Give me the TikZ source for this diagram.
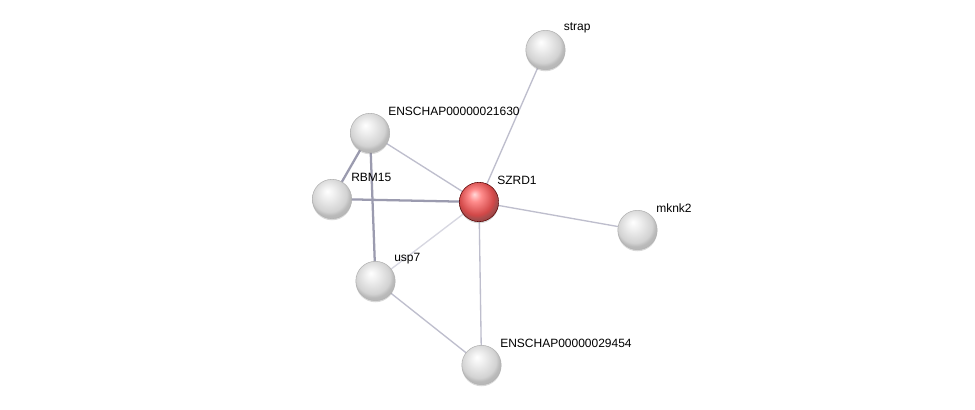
\documentclass[tikz,border=0pt]{standalone}
\usepackage{fontspec}
\setmainfont{Liberation Sans}
\usetikzlibrary{shadows}
\pgfdeclareradialshading{greyball}{\pgfpoint{-6bp}{10bp}}{color(0bp)=(white); color(8bp)=(gray!12); color(22bp)=(gray!35); color(26bp)=(gray!55); color(50bp)=(gray!60)}
\pgfdeclareradialshading{redball}{\pgfpoint{-6bp}{10bp}}{color(0bp)=(red!15); color(8bp)=(red!45); color(22bp)=(red!60!gray!90); color(26bp)=(red!50!black!70); color(50bp)=(red!40!black)}
\begin{document}
\begin{tikzpicture}[x=0.75pt,y=-0.75pt,
  prot/.style={circle,minimum size=29.5pt,inner sep=0pt,shading=greyball,draw=gray!60,line width=0.4pt,drop shadow={shadow xshift=0pt,shadow yshift=-1.2pt,opacity=0.3}},
  hub/.style={prot,shading=redball,draw=red!35!black},
  lbl/.style={font=\fontsize{9}{10}\selectfont,anchor=west,inner sep=0pt},
  thin/.style={line width=1pt,color={rgb,255:red,190;green,190;blue,205}},
  thick/.style={line width=1.7pt,color={rgb,255:red,155;green,155;blue,175}},
  faint/.style={line width=1pt,color={rgb,255:red,215;green,215;blue,225}}]
\useasboundingbox (0,0) rectangle (975,410);
\fill[white] (0,0) rectangle (975,410);
\coordinate (pstrap) at (545.5,50);
\coordinate (pe1) at (370,133);
\coordinate (prbm) at (332,199);
\coordinate (pszrd) at (479,202);
\coordinate (pmk) at (637.5,230);
\coordinate (pusp) at (375.5,281);
\coordinate (pe2) at (481.5,365);
% edges
\draw[thin] (pstrap) -- (pszrd);
\draw[thin] (pe1) -- (pszrd);
\draw[thin] (pszrd) -- (pmk);
\draw[faint] (pszrd) -- (pusp);
\draw[thin] (pszrd) -- (pe2);
\draw[thin] (pusp) -- (pe2);
\draw[thick] (pe1) -- (prbm);
\draw[thick] (pe1) -- (pusp);
\draw[thick] (prbm) -- (pszrd);
% nodes
\node[prot] (strap) at (pstrap) {};
\node[prot] (e1) at (pe1) {};
\node[prot] (rbm) at (prbm) {};
\node[hub] (szrd) at (pszrd) {};
\node[prot] (mk) at (pmk) {};
\node[prot] (usp) at (pusp) {};
\node[prot] (e2) at (pe2) {};
% labels
\node[lbl] (lstrap) at (563.5,28) {strap};
\node[lbl] (le1) at (388,111) {ENSCHAP00000021630};
\node[lbl] (lrbm) at (351,177.5) {RBM15};
\node[lbl] (lszrd) at (497,180.5) {SZRD1};
\node[lbl] (lmk) at (656,208) {mknk2};
\node[lbl] (lusp) at (394,259) {usp7};
\node[lbl] (le2) at (500,343) {ENSCHAP00000029454};
\end{tikzpicture}
\end{document}
